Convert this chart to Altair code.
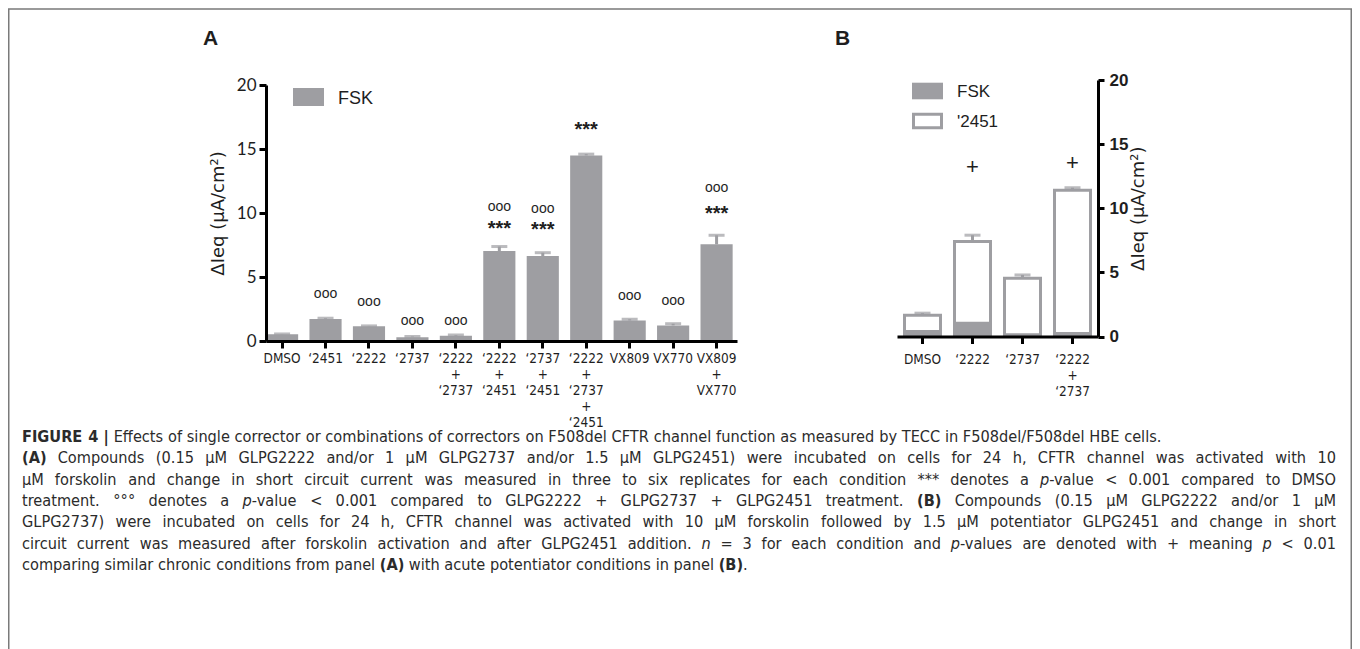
import altair as alt
import pandas as pd

W, H = 1344, 641
OFF = 8  # page margin: real pixel = plot pixel + 8
GRAY = "#9e9ea2"
INK = "#1e1e1e"
SANS = "Liberation Sans, Arial, sans-serif"
NARROW = "DejaVu Sans Condensed, Liberation Sans Narrow, sans-serif"
TICKF = "Lato, Open Sans, sans-serif"
TITLEF = "DejaVu Sans, sans-serif"

# ---------------- Panel A data ----------------
a_cats = ["DMSO", "‘2451", "‘2222", "‘2737", "‘2222|+|‘2737", "‘2222|+|‘2451",
          "‘2737|+|‘2451", "‘2222|+|‘2737|+|‘2451", "VX809", "VX770", "VX809|+|VX770"]
a_fsk = [0.52, 1.72, 1.15, 0.29, 0.41, 7.03, 6.64, 14.5, 1.60, 1.22, 7.55]
a_upper = [0.55, 1.78, 1.18, 0.35, 0.47, 7.38, 6.90, 14.6, 1.70, 1.35, 8.26]
a_circles = [None, 3.65, 3.0, 1.5, 1.56, 10.4, 10.3, None, 3.5, 3.07, 11.9]
a_stars = [None, None, None, None, None, 8.9, 8.8, 16.6, None, None, 10.05]

# ---------------- Panel B data ----------------
b_cats = ["DMSO", "‘2222", "‘2737", "‘2222|+|‘2737"]
b_fsk = [0.5, 1.15, 0.25, 0.35]
b_total = [1.65, 7.4, 4.55, 11.4]
b_upper = [1.82, 7.9, 4.8, 11.6]
b_plus = [None, 13.2, None, 13.5]

y_ticks = [0, 5, 10, 15, 20]
y_title = "ΔIeq (μA/cm²)"
legend_a = ["FSK"]
legend_b = ["FSK", "'2451"]

# ---------------- caption: each line is a list of (style, text) ----------------
caption_lines = [
    [("b", "FIGURE 4 | "), ("n", "Effects of single corrector or combinations of correctors on F508del CFTR channel function as measured by TECC in F508del/F508del HBE cells.")],
    [("b", "(A) "), ("n", "Compounds (0.15 μM GLPG2222 and/or 1 μM GLPG2737 and/or 1.5 μM GLPG2451) were incubated on cells for 24 h, CFTR channel was activated with 10")],
    [("n", "μM forskolin and change in short circuit current was measured in three to six replicates for each condition *** denotes a "), ("i", "p"), ("n", "-value < 0.001 compared to DMSO")],
    [("n", "treatment. °°° denotes a "), ("i", "p"), ("n", "-value < 0.001 compared to GLPG2222 + GLPG2737 + GLPG2451 treatment. "), ("b", "(B) "), ("n", "Compounds (0.15 μM GLPG2222 and/or 1 μM")],
    [("n", "GLPG2737) were incubated on cells for 24 h, CFTR channel was activated with 10 μM forskolin followed by 1.5 μM potentiator GLPG2451 and change in short")],
    [("n", "circuit current was measured after forskolin activation and after GLPG2451 addition. "), ("i", "n"), ("n", " = 3 for each condition and "), ("i", "p"), ("n", "-values are denoted with + meaning "), ("i", "p"), ("n", " < 0.01")],
    [("n", "comparing similar chronic conditions from panel "), ("b", "(A)"), ("n", " with acute potentiator conditions in panel "), ("b", "(B)"), ("n", ".")],
]
caption_justify = [False, True, True, True, True, True, False]
caption_baselines = [442, 463.3, 484.6, 506, 527.3, 548.6, 570]
CAP_L, CAP_R = 22, 1336
CAPS = 16.2
CAPC = "#2b2b2b"
CAPF = "DejaVu Sans Condensed, sans-serif"

# approximate DejaVu Sans advance widths (1/1000 em); condensed ~ 0.9x
_WD = {" ": 318, "!": 401, "(": 390, ")": 390, "*": 500, "+": 838, ",": 318, "-": 361,
       ".": 318, "/": 337, ":": 337, ";": 337, "<": 838, "=": 838, ">": 838, "|": 337,
       "°": 500, "μ": 636, "'": 275, "‘": 318,
       "A": 684, "B": 686, "C": 698, "D": 770, "E": 632, "F": 575, "G": 775, "H": 752,
       "I": 295, "J": 295, "K": 656, "L": 557, "M": 863, "N": 748, "O": 787, "P": 603,
       "Q": 787, "R": 695, "S": 635, "T": 611, "U": 732, "V": 684, "W": 989, "X": 685,
       "Y": 611, "Z": 685,
       "a": 613, "b": 635, "c": 550, "d": 635, "e": 615, "f": 352, "g": 635, "h": 634,
       "i": 278, "j": 278, "k": 579, "l": 278, "m": 974, "n": 634, "o": 612, "p": 635,
       "q": 635, "r": 411, "s": 521, "t": 392, "u": 634, "v": 592, "w": 818, "x": 592,
       "y": 592, "z": 525}


def text_w(s, style):
    tot = sum(_WD.get(ch, 636 if ch.isdigit() else 600) for ch in s)
    if style == "b":
        tot *= 1.14
    return tot * 0.9 * CAPS / 1000.0


def layout_caption():
    rows = []
    sp = text_w(" ", "n")
    for li, segs in enumerate(caption_lines):
        tokens = []  # [style, word, space_before]
        pending_space = False
        for style, txt in segs:
            parts = txt.split(" ")
            for k, p in enumerate(parts):
                if k > 0:
                    pending_space = True
                if p == "":
                    continue
                tokens.append([style, p, pending_space and len(tokens) > 0])
                pending_space = False
        nsp = sum(1 for t in tokens if t[2])
        natural = sum(text_w(t[1], t[0]) for t in tokens) + sp * nsp
        extra = 0.0
        if caption_justify[li] and nsp > 0:
            extra = max(0.0, (CAP_R - CAP_L - natural) / nsp)
        x = CAP_L
        for style, word, spb in tokens:
            if spb:
                x += sp + extra
            rows.append({"x": x - OFF, "y": caption_baselines[li] - OFF,
                         "text": word, "style": style})
            x += text_w(word, style)
    return pd.DataFrame(rows)


def axis_common(**kw):
    base = dict(tickWidth=3, tickColor="black", domainColor="black", domainWidth=3,
                grid=False, zindex=1, labelColor=INK)
    base.update(kw)
    return alt.Axis(**base)


# ================= Panel A =================
dfA = pd.DataFrame({"cat": a_cats, "fsk": a_fsk, "upper": a_upper,
                    "circ": a_circles, "star": a_stars})
scaleXA = alt.Scale(domain=a_cats, range=[266 - OFF, 737 - OFF], paddingInner=0.26,
                    paddingOuter=0.05, align=0)
axisXA = axis_common(orient="bottom", offset=-(H - (341 - OFF)), labelAngle=0,
                     labelExpr="split(datum.label, '|')", labelFont=NARROW,
                     labelFontSize=13.5, labelLineHeight=16, labelPadding=3, tickSize=7)
scaleYA = alt.Scale(domain=[0, 20], range=[341 - OFF, 85 - OFF], nice=False)
axisYA = axis_common(orient="left", offset=-(266 - OFF), values=y_ticks, title=y_title,
                     titleFont=TITLEF, titleFontSize=18, titleFontWeight="normal",
                     titleColor=INK, titlePadding=9, labelFont=TICKF, labelFontSize=17,
                     labelPadding=3, tickSize=7)


def xA():
    return alt.X("cat:N", sort=a_cats, title=None, scale=scaleXA, axis=axisXA)


def yA(field):
    return alt.Y(field, scale=scaleYA, axis=axisYA, title=y_title)


barsA = alt.Chart(dfA).mark_bar(color=GRAY).encode(x=xA(), y=yA("fsk:Q"))
stemA = alt.Chart(dfA).mark_rule(color=GRAY, strokeWidth=3).encode(
    x=xA(), y=yA("fsk:Q"), y2="upper:Q")
capA = alt.Chart(dfA).mark_tick(color=GRAY, thickness=3, size=16).encode(
    x=xA(), y=yA("upper:Q"))
circA = alt.Chart(dfA).mark_text(text="ooo", font=SANS, fontSize=14, dy=-0.4,
                                 color=INK).encode(x=xA(), y=yA("circ:Q"))
starA = alt.Chart(dfA).mark_text(text="***", font=SANS, fontSize=20, fontWeight="bold",
                                 dy=1.5, color=INK).encode(x=xA(), y=yA("star:Q"))
layerA = alt.layer(barsA, stemA, capA, circA, starA)

# ================= Panel B =================
dfB = pd.DataFrame({"cat": b_cats, "fsk": b_fsk, "total": b_total,
                    "upper": b_upper, "plus": b_plus})
scaleXB = alt.Scale(domain=b_cats, range=[897 - OFF, 1098 - OFF], paddingInner=0.28,
                    paddingOuter=0.15)
axisXB = axis_common(orient="bottom", offset=-(H - (336.5 - OFF)), labelAngle=0,
                     labelExpr="split(datum.label, '|')", labelFont=NARROW,
                     labelFontSize=13.5, labelLineHeight=16, labelPadding=9, tickSize=7)
scaleYB = alt.Scale(domain=[0, 20], range=[336.5 - OFF, 80 - OFF], nice=False)
axisYB = axis_common(orient="right", offset=-(W - (1098 - OFF)), values=y_ticks,
                     title=y_title, titleFont=TITLEF, titleFontSize=18,
                     titleFontWeight="normal", titleColor=INK, titleAngle=270,
                     titleBaseline="top", titlePadding=2, labelFont=SANS, labelFontSize=17,
                     labelFontWeight="bold", labelPadding=5, tickSize=6)


def xB():
    return alt.X("cat:N", sort=b_cats, title=None, scale=scaleXB, axis=axisXB)


def yB(field):
    return alt.Y(field, scale=scaleYB, axis=axisYB, title=y_title)


hollowB = alt.Chart(dfB).mark_bar(fill="white", stroke=GRAY, strokeWidth=3).encode(
    x=xB(), y=yB("total:Q"))
fskB = alt.Chart(dfB).mark_bar(color=GRAY).encode(x=xB(), y=yB("fsk:Q"))
stemB = alt.Chart(dfB).mark_rule(color=GRAY, strokeWidth=3).encode(
    x=xB(), y=yB("total:Q"), y2="upper:Q")
capB = alt.Chart(dfB).mark_tick(color=GRAY, thickness=3, size=16).encode(
    x=xB(), y=yB("upper:Q"))
plusB = alt.Chart(dfB).mark_text(text="+", font=SANS, fontSize=22, dy=-0.3,
                                 color=INK).encode(x=xB(), y=yB("plus:Q"))
layerB = alt.layer(hollowB, fskB, stemB, capB, plusB)

# ================= decorations =================
one = pd.DataFrame({"k": [0]})
frame = alt.Chart(one).mark_rect(fill="white", fillOpacity=0, stroke="#7a7a7a",
                                 strokeWidth=1.5).encode(
    x=alt.value(0.75), x2=alt.value(W - 0.75), y=alt.value(1), y2=alt.value(H + 40))

letters = pd.DataFrame({"t": ["A", "B"]})
letterA = alt.Chart(letters[letters.t == "A"]).mark_text(
    font=SANS, fontSize=21, fontWeight="bold", align="left", baseline="alphabetic",
    color=INK).encode(text="t:N", x=alt.value(203 - OFF), y=alt.value(45 - OFF))
letterB = alt.Chart(letters[letters.t == "B"]).mark_text(
    font=SANS, fontSize=21, fontWeight="bold", align="left", baseline="alphabetic",
    color=INK).encode(text="t:N", x=alt.value(835 - OFF), y=alt.value(45 - OFF))

legA_df = pd.DataFrame({"t": legend_a})
legB_df = pd.DataFrame({"t": legend_b})
legA_sw = alt.Chart(legA_df).mark_rect(color=GRAY).encode(
    x=alt.value(293 - OFF), x2=alt.value(324 - OFF), y=alt.value(88 - OFF), y2=alt.value(106 - OFF))
legA_tx = alt.Chart(legA_df).mark_text(font=SANS, fontSize=18, align="left",
                                       baseline="alphabetic", color=INK).encode(
    text="t:N", x=alt.value(338 - OFF), y=alt.value(103.5 - OFF))
legB_sw1 = alt.Chart(legB_df.iloc[[0]]).mark_rect(color=GRAY).encode(
    x=alt.value(912 - OFF), x2=alt.value(943 - OFF), y=alt.value(82.7 - OFF), y2=alt.value(99.3 - OFF))
legB_sw2 = alt.Chart(legB_df.iloc[[1]]).mark_rect(fill="white", stroke=GRAY, strokeWidth=3).encode(
    x=alt.value(913.5 - OFF), x2=alt.value(941.5 - OFF), y=alt.value(114.2 - OFF), y2=alt.value(127.8 - OFF))
legB_tx1 = alt.Chart(legB_df.iloc[[0]]).mark_text(font=SANS, fontSize=17, align="left",
                                                  baseline="alphabetic", color=INK).encode(
    text="t:N", x=alt.value(957 - OFF), y=alt.value(97.3 - OFF))
legB_tx2 = alt.Chart(legB_df.iloc[[1]]).mark_text(font=SANS, fontSize=17, align="left",
                                                  baseline="alphabetic", color=INK).encode(
    text="t:N", x=alt.value(957 - OFF), y=alt.value(126.7 - OFF))

cap_df = layout_caption()


def cap_layer(style, **kw):
    d = cap_df[cap_df["style"] == style]
    return alt.Chart(d).mark_text(font=CAPF, fontSize=CAPS, align="left",
                                  baseline="alphabetic", color=CAPC, **kw).encode(
        text="text:N", x=alt.X("x:Q", scale=None), y=alt.Y("y:Q", scale=None))


capN = cap_layer("n")
capBd = cap_layer("b", fontWeight="bold")
capI = cap_layer("i", fontStyle="italic")

chart = alt.layer(
    frame, layerA, layerB, letterA, letterB, legA_sw, legA_tx,
    legB_sw1, legB_sw2, legB_tx1, legB_tx2, capN, capBd, capI
).resolve_scale(x="independent", y="independent").resolve_axis(
    x="independent", y="independent"
).properties(
    width=W, height=H, autosize=alt.AutoSizeParams(type="none"), padding=0
).configure_view(stroke=None)

chart.save("out.html", embed_options={"renderer": "svg", "actions": False})
